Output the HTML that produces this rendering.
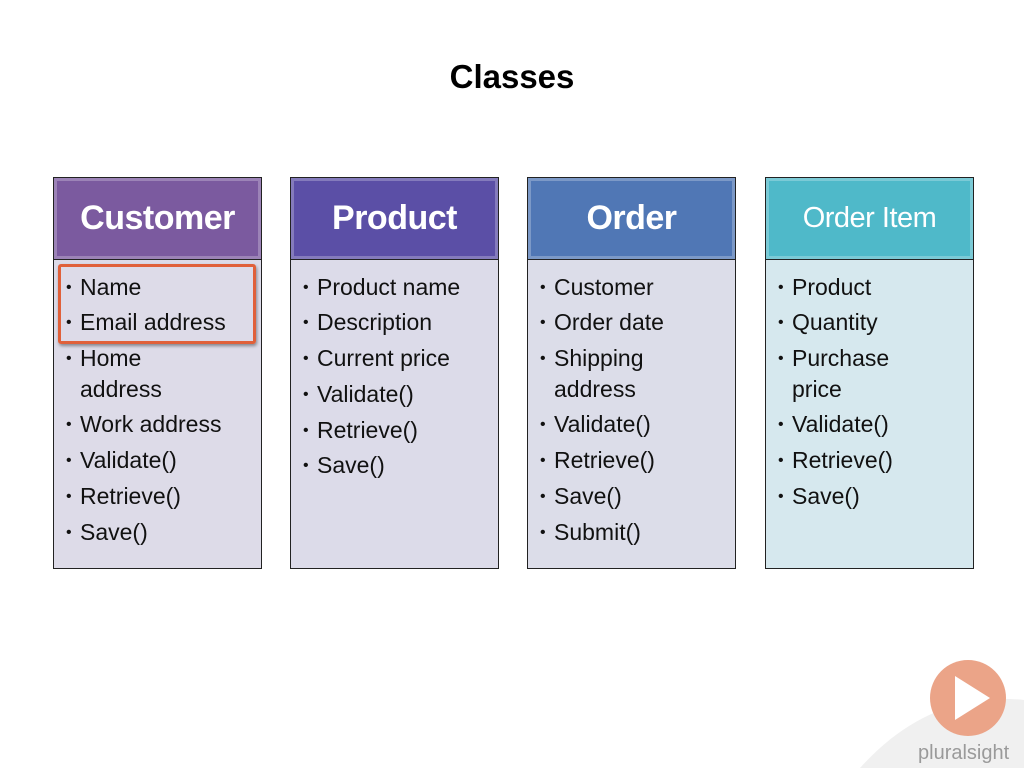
<html><head><style>
body{margin:0;width:1024px;height:768px;background:#fff;position:relative;overflow:hidden;font-family:"Liberation Sans",sans-serif}
.t{position:absolute;left:0;width:1024px;top:58px;text-align:center;font-weight:bold;font-size:33px;color:#000}
.col{position:absolute;top:177px;width:209px;height:392px;border:1px solid #222;box-sizing:border-box}
.h{height:81px;border-bottom:1px solid #222;color:#fff;font-weight:bold;font-size:34px;text-align:center;line-height:81px;box-shadow:inset 0 0 0 3px rgba(255,255,255,.25);letter-spacing:-0.5px}
.b{position:absolute;top:82px;left:0;right:0;bottom:0}
.i{position:absolute;left:12px;font-size:23px;color:#111;white-space:nowrap}
.i span{display:inline-block;width:14px;font-size:16px;vertical-align:3px}
.c{position:absolute;left:26px;font-size:23px;color:#111}
</style></head><body>
<div class="t">Classes</div>

<div class="col" style="left:53px"><div class="h" style="background:#7b5a9f">Customer</div>
<div class="b" style="background:#dddbe8">
<div class="i" style="top:14px"><span>•</span>Name</div>
<div class="i" style="top:49px"><span>•</span>Email address</div>
<div class="i" style="top:85px"><span>•</span>Home</div>
<div class="c" style="top:116px">address</div>
<div class="i" style="top:151px"><span>•</span>Work address</div>
<div class="i" style="top:187px"><span>•</span>Validate()</div>
<div class="i" style="top:223px"><span>•</span>Retrieve()</div>
<div class="i" style="top:259px"><span>•</span>Save()</div>
</div></div>
<div style="position:absolute;left:58px;top:264px;width:192px;height:74px;border:3px solid #e0603a;border-radius:3px;box-shadow:1px 2px 3px rgba(0,0,0,.4)"></div>

<div class="col" style="left:290px"><div class="h" style="background:#5b4fa6">Product</div>
<div class="b" style="background:#dcdbe9">
<div class="i" style="top:14px"><span>•</span>Product name</div>
<div class="i" style="top:49px"><span>•</span>Description</div>
<div class="i" style="top:85px"><span>•</span>Current price</div>
<div class="i" style="top:121px"><span>•</span>Validate()</div>
<div class="i" style="top:157px"><span>•</span>Retrieve()</div>
<div class="i" style="top:192px"><span>•</span>Save()</div>
</div></div>

<div class="col" style="left:527px"><div class="h" style="background:#5077b5">Order</div>
<div class="b" style="background:#dcdde9">
<div class="i" style="top:14px"><span>•</span>Customer</div>
<div class="i" style="top:49px"><span>•</span>Order date</div>
<div class="i" style="top:85px"><span>•</span>Shipping</div>
<div class="c" style="top:116px">address</div>
<div class="i" style="top:151px"><span>•</span>Validate()</div>
<div class="i" style="top:187px"><span>•</span>Retrieve()</div>
<div class="i" style="top:223px"><span>•</span>Save()</div>
<div class="i" style="top:259px"><span>•</span>Submit()</div>
</div></div>

<div class="col" style="left:765px"><div class="h" style="background:#4fb9c9;font-weight:normal;font-size:29px">Order Item</div>
<div class="b" style="background:#d6e8ee">
<div class="i" style="top:14px"><span>•</span>Product</div>
<div class="i" style="top:49px"><span>•</span>Quantity</div>
<div class="i" style="top:85px"><span>•</span>Purchase</div>
<div class="c" style="top:116px">price</div>
<div class="i" style="top:151px"><span>•</span>Validate()</div>
<div class="i" style="top:187px"><span>•</span>Retrieve()</div>
<div class="i" style="top:223px"><span>•</span>Save()</div>
</div></div>

<svg style="position:absolute;left:0;top:0" width="1024" height="768">
<path d="M860 768 Q930 690 1024 700 L1024 768Z" fill="#f0f0f0"/>
<circle cx="968" cy="698" r="38" fill="#eba488"/>
<path d="M955 676 L990 698 L955 720Z" fill="#fff"/>
<text x="918" y="759" font-family="Liberation Sans" font-size="20" fill="#9a9a9a">pluralsight</text>
</svg>
</body></html>
